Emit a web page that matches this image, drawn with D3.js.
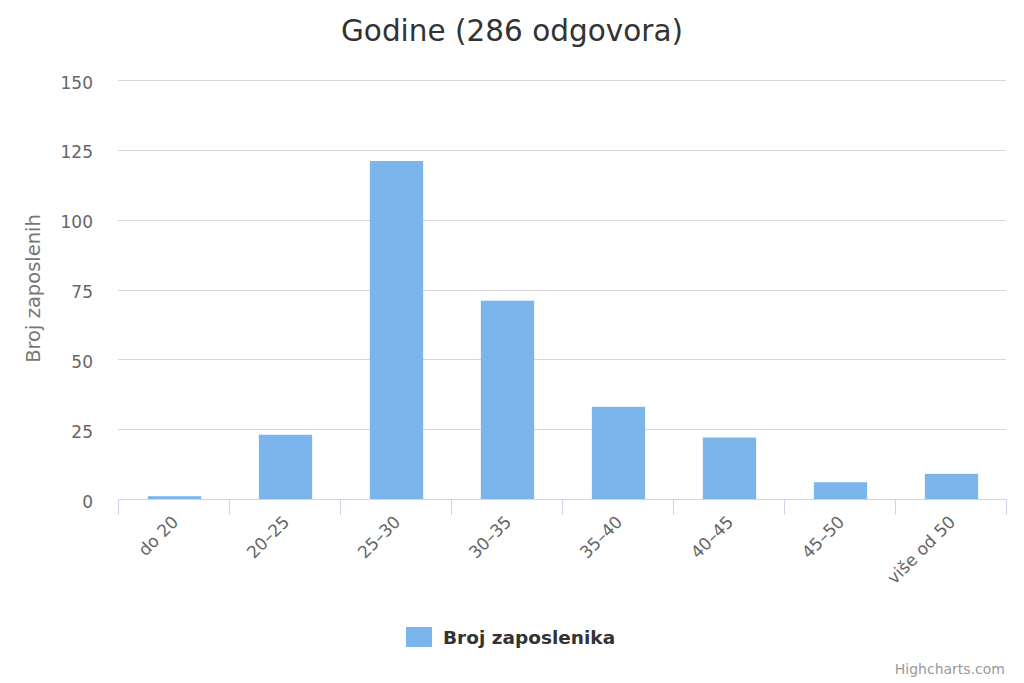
<!DOCTYPE html>
<html>
<head>
<meta charset="utf-8">
<script src="https://cdn.jsdelivr.net/npm/d3@7"></script>
<style>
  html, body { margin: 0; padding: 0; background: #fff; }
  svg { display: block; font-family: "DejaVu Sans", sans-serif; }
</style>
</head>
<body>
<svg id="chart" width="1024" height="683"></svg>
<script>
const categories = ["do 20", "20–25", "25–30", "30–35", "35–40", "40–45", "45–50", "više od 50"];
const values = [1, 23, 121, 71, 33, 22, 6, 9];
const yTicks = [0, 25, 50, 75, 100, 125, 150];
const seriesName = "Broj zaposlenika";
const titleText = "Godine (286 odgovora)";
const yTitle = "Broj zaposlenih";

const svg = d3.select("#chart");
const W = 1024, H = 683;
const m = { left: 118, right: 18, top: 80, bottom: 184 };

const x = d3.scaleBand().domain(categories).range([m.left, W - m.right]).paddingInner(0).paddingOuter(0);
const y = d3.scaleLinear().domain([0, 150]).range([H - m.bottom, m.top]);

// title
svg.append("text").attr("x", 512).attr("y", 41).attr("text-anchor", "middle")
  .attr("fill", "#333").attr("font-size", 29.5).text(titleText);

// grid
svg.append("g").selectAll("line").data(yTicks.filter(d => d > 0)).join("line")
  .attr("x1", m.left).attr("x2", W - m.right)
  .attr("y1", d => Math.round(y(d)) + 0.5).attr("y2", d => Math.round(y(d)) + 0.5)
  .attr("stroke", "#d8d8d8").attr("stroke-width", 1);

// y labels
svg.append("g").selectAll("text").data(yTicks).join("text")
  .attr("x", 93).attr("y", d => y(d) + 8.5).attr("text-anchor", "end")
  .attr("fill", "#666").attr("font-size", 17).text(d => d);

// y title
svg.append("text").attr("transform", `translate(40,${y(75) - 1}) rotate(-90)`)
  .attr("text-anchor", "middle").attr("fill", "#777").attr("font-size", 19.5).text(yTitle);

// bars
const bw = x.bandwidth() * 0.6 * 0.8;
svg.append("g").selectAll("rect").data(values).join("rect")
  .attr("x", (d, i) => x(categories[i]) + x.bandwidth() / 2 - bw / 2 + 1)
  .attr("y", d => y(d))
  .attr("width", bw)
  .attr("height", d => y(0) - y(d))
  .attr("fill", "#7cb5ec");

// x axis
const gx = svg.append("g").attr("transform", `translate(0,${y(0)})`);
gx.append("line").attr("x1", m.left).attr("x2", W - m.right).attr("y1", 0.5).attr("y2", 0.5)
  .attr("stroke", "#ccd6eb");
const edges = categories.map(c => x(c)).concat([x(categories[categories.length - 1]) + x.bandwidth()]);
gx.selectAll("line.tick").data(edges).join("line").attr("class", "tick")
  .attr("x1", d => Math.round(d) + 0.5).attr("x2", d => Math.round(d) + 0.5)
  .attr("y1", 0).attr("y2", 16).attr("stroke", "#ccd6eb");
gx.selectAll("text").data(categories).join("text")
  .attr("transform", d => `translate(${x(d) + x.bandwidth() / 2 + 6},${24}) rotate(-45)`)
  .attr("text-anchor", "end").attr("fill", "#666").attr("font-size", 17).text(d => d);

// legend
const lg = svg.append("g");
lg.append("rect").attr("x", 406).attr("y", 627).attr("width", 26).attr("height", 20).attr("fill", "#7cb5ec");
lg.append("text").attr("x", 443).attr("y", 644).attr("fill", "#333").attr("font-size", 18.5)
  .attr("font-weight", "bold").text(seriesName);

// credits
svg.append("text").attr("x", 1005).attr("y", 674).attr("text-anchor", "end")
  .attr("fill", "#999").attr("font-size", 14).text("Highcharts.com");
</script>
</body>
</html>
